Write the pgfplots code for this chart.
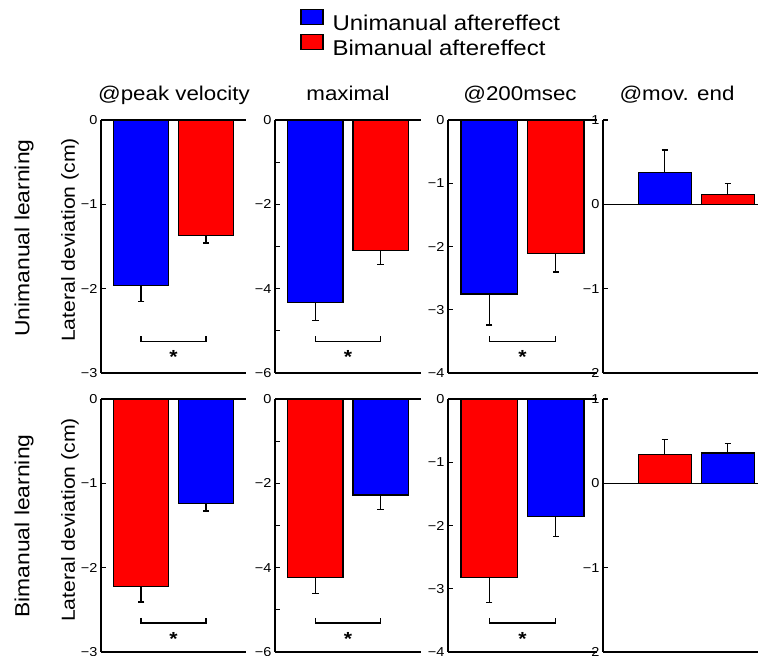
\documentclass[border=0pt]{standalone}
\usepackage{pgfplots}
\pgfplotsset{compat=1.18}
\usepackage{fontspec}
\setmainfont{Liberation Sans}[FakeStretch=1.12]

\definecolor{uniblue}{RGB}{0,0,255}
\definecolor{bired}{RGB}{255,0,0}

\pgfplotsset{
  panel/.style={
    scale only axis, anchor=north west,
    width=145bp, height=253bp,
    axis x line*=bottom, axis y line*=left,
    xmin=0.38, xmax=2.62, xtick=\empty,
    tick align=inside, major tick length=4.5bp, minor tick length=4.5bp,
    axis line style={line width=1.4bp},
    tick style={black, line width=1.1bp},
    yticklabel style={font=\fontsize{13}{14}\selectfont},
    clip=false,
  },
  bb/.style={
    ybar, bar shift=0pt, bar width=0.85, draw=black, line width=1.3bp,
    error bars/y dir=minus, error bars/y explicit,
    error bars/error bar style={black, line width=1.4bp},
    error bars/error mark options={rotate=90, black, line width=1.4bp, mark size=3.2bp},
    legend image code/.code={\draw[##1, line width=1.3bp] (0bp,-1bp) rectangle (22bp,14bp); \path (29bp,0bp);},
  },
  bbp/.style={bb, error bars/y dir=plus},
}
\tikzset{star/.style={font=\bfseries\fontsize{19}{19}\selectfont, inner sep=0pt, yshift=-4bp}}

\begin{document}
\begin{tikzpicture}
\useasboundingbox (0,0) rectangle (758bp,-656bp);

% titles and side labels
\node[anchor=base, font=\fontsize{20}{24}\selectfont] at (174bp,-100bp) {@peak velocity};
\node[anchor=base, font=\fontsize{20}{24}\selectfont] at (348bp,-100bp) {maximal};
\node[anchor=base, font=\fontsize{20}{24}\selectfont] at (520bp,-100bp) {@200msec};
\node[anchor=base, font=\fontsize{20}{24}\selectfont] at (677bp,-100bp) {@mov. end};
\node[rotate=90, font=\fontsize{20.5}{24}\selectfont] at (24bp,-238bp) {Unimanual learning};
\node[rotate=90, font=\fontsize{20.5}{24}\selectfont] at (24bp,-526bp) {Bimanual learning};
\node[rotate=90, font=\fontsize{19}{22}\selectfont] at (70bp,-240bp) {Lateral deviation (cm)};
\node[rotate=90, font=\fontsize{19}{22}\selectfont] at (70bp,-520bp) {Lateral deviation (cm)};

%% row 1: unimanual learning
\begin{axis}[panel, at={(101bp,-120bp)}, width=145bp,
  ymin=-3, ymax=0, ytick={0,-1,-2,-3}, yticklabels={0,−1,−2,−3},
  legend style={at={(1.352,1.448)}, anchor=north west, draw=none, fill=none,
    font=\fontsize{21.5}{24}\selectfont, row sep=0bp},
  legend cell align=left]
\addplot[bb, fill=uniblue] coordinates {(1,-1.965) -= (0,0.185)};
\addplot[bb, fill=bired] coordinates {(2,-1.37) -= (0,0.09)};
\legend{Unimanual aftereffect, Bimanual aftereffect}
\draw[line width=1.4bp] (axis cs:0.38,0) -- (axis cs:2.62,0);
\draw[line width=1.3bp] (axis cs:1,-2.565) -- (axis cs:1,-2.625) -- (axis cs:2,-2.625) -- (axis cs:2,-2.565);
\node[star] at (axis cs:1.5,-2.76) {*};
\end{axis}

\begin{axis}[panel, at={(275bp,-120bp)}, width=146bp,
  ymin=-6, ymax=0, ytick={0,-2,-4,-6}, yticklabels={0,−2,−4,−6},
  minor ytick={-1,-3,-5}]
\addplot[bb, fill=uniblue] coordinates {(1,-4.33) -= (0,0.43)};
\addplot[bb, fill=bired] coordinates {(2,-3.10) -= (0,0.33)};
\draw[line width=1.4bp] (axis cs:0.38,0) -- (axis cs:2.62,0);
\draw[line width=1.3bp] (axis cs:1,-5.13) -- (axis cs:1,-5.25) -- (axis cs:2,-5.25) -- (axis cs:2,-5.13);
\node[star] at (axis cs:1.5,-5.52) {*};
\end{axis}

\begin{axis}[panel, at={(448bp,-120bp)}, width=149bp,
  ymin=-4, ymax=0, ytick={0,-1,-2,-3,-4}, yticklabels={0,−1,−2,−3,−4}]
\addplot[bb, fill=uniblue] coordinates {(1,-2.75) -= (0,0.49)};
\addplot[bb, fill=bired] coordinates {(2,-2.11) -= (0,0.29)};
\draw[line width=1.4bp] (axis cs:0.38,0) -- (axis cs:2.62,0);
\draw[line width=1.3bp] (axis cs:1,-3.42) -- (axis cs:1,-3.5) -- (axis cs:2,-3.5) -- (axis cs:2,-3.42);
\node[star] at (axis cs:1.5,-3.68) {*};
\end{axis}

\begin{axis}[panel, at={(603bp,-120bp)}, width=155bp, xmin=0.02, xmax=2.48,
  ymin=-2, ymax=1, ytick={1,0,-1,-2}, yticklabels={1,0,−1,−2}]
\addplot[bbp, fill=uniblue, bar width=0.84] coordinates {(1,0.38) += (0,0.265)};
\addplot[bbp, fill=bired, bar width=0.84] coordinates {(2,0.114) += (0,0.136)};
\draw[line width=1.4bp] (axis cs:0.02,0) -- (axis cs:2.48,0);
\end{axis}

%% row 2: bimanual learning
\begin{axis}[panel, at={(101bp,-399bp)}, width=145bp,
  ymin=-3, ymax=0, ytick={0,-1,-2,-3}, yticklabels={0,−1,−2,−3}]
\addplot[bb, fill=bired] coordinates {(1,-2.226) -= (0,0.18)};
\addplot[bb, fill=uniblue] coordinates {(2,-1.237) -= (0,0.09)};
\draw[line width=1.4bp] (axis cs:0.38,0) -- (axis cs:2.62,0);
\draw[line width=1.3bp] (axis cs:1,-2.595) -- (axis cs:1,-2.655) -- (axis cs:2,-2.655) -- (axis cs:2,-2.595);
\node[star] at (axis cs:1.5,-2.80) {*};
\end{axis}

\begin{axis}[panel, at={(275bp,-399bp)}, width=146bp,
  ymin=-6, ymax=0, ytick={0,-2,-4,-6}, yticklabels={0,−2,−4,−6},
  minor ytick={-1,-3,-5}]
\addplot[bb, fill=bired] coordinates {(1,-4.23) -= (0,0.38)};
\addplot[bb, fill=uniblue] coordinates {(2,-2.28) -= (0,0.34)};
\draw[line width=1.4bp] (axis cs:0.38,0) -- (axis cs:2.62,0);
\draw[line width=1.3bp] (axis cs:1,-5.19) -- (axis cs:1,-5.31) -- (axis cs:2,-5.31) -- (axis cs:2,-5.19);
\node[star] at (axis cs:1.5,-5.6) {*};
\end{axis}

\begin{axis}[panel, at={(448bp,-399bp)}, width=149bp,
  ymin=-4, ymax=0, ytick={0,-1,-2,-3,-4}, yticklabels={0,−1,−2,−3,−4}]
\addplot[bb, fill=bired] coordinates {(1,-2.82) -= (0,0.40)};
\addplot[bb, fill=uniblue] coordinates {(2,-1.86) -= (0,0.31)};
\draw[line width=1.4bp] (axis cs:0.38,0) -- (axis cs:2.62,0);
\draw[line width=1.3bp] (axis cs:1,-3.46) -- (axis cs:1,-3.54) -- (axis cs:2,-3.54) -- (axis cs:2,-3.46);
\node[star] at (axis cs:1.5,-3.73) {*};
\end{axis}

\begin{axis}[panel, at={(603bp,-399bp)}, width=155bp, xmin=0.02, xmax=2.48,
  ymin=-2, ymax=1, ytick={1,0,-1,-2}, yticklabels={1,0,−1,−2}]
\addplot[bbp, fill=bired, bar width=0.84] coordinates {(1,0.345) += (0,0.175)};
\addplot[bbp, fill=uniblue, bar width=0.84] coordinates {(2,0.36) += (0,0.11)};
\draw[line width=1.4bp] (axis cs:0.02,0) -- (axis cs:2.48,0);
\end{axis}
\end{tikzpicture}
\end{document}
